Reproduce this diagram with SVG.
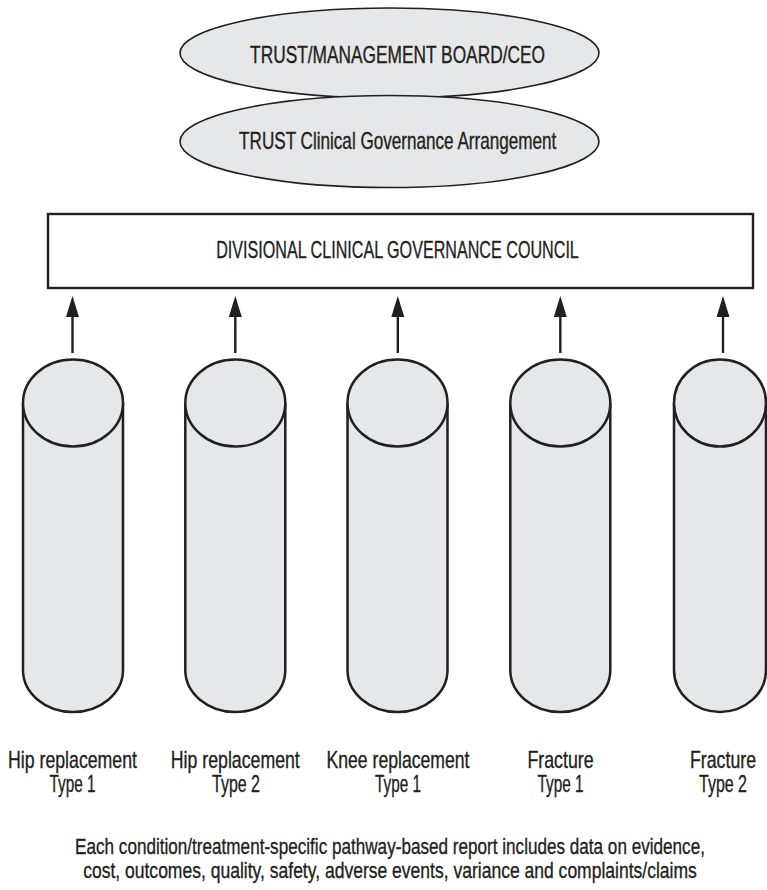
<svg xmlns="http://www.w3.org/2000/svg" width="767" height="890" viewBox="0 0 767 890">
  <style>
    .txt { font-family: "Liberation Sans", Arial, sans-serif; font-size: 23px; fill: #231f20; stroke: #231f20; stroke-width: 0.35; text-anchor: middle; }
    .note { font-size: 22px; }
    .oval { fill: #e6e7e8; stroke: #231f20; stroke-width: 1.6; }
    .box { fill: #ffffff; stroke: #231f20; stroke-width: 2.4; }
    .cyl { fill: #e6e7e8; stroke: #231f20; stroke-width: 2.5; }
    .link { stroke: #231f20; stroke-width: 2.4; fill: none; }
    .head { fill: #231f20; stroke: none; }
  </style>
  <defs>
    <!-- cylinder outline centred on x=0: sides, rounded base, and top face -->
    <g id="cylinder">
      <path class="cyl" d="M-50,403 L-50,670 A50,42 0 0 0 50,670 L50,403"/>
      <ellipse class="cyl" cx="0" cy="403" rx="50" ry="43.5"/>
    </g>
    <!-- upward arrow, tip at (0,296) -->
    <g id="up-arrow">
      <line class="link" x1="0" y1="353" x2="0" y2="314"/>
      <path class="head" d="M-6.5,317 L0,296 L6.5,317 Z"/>
    </g>
  </defs>

  <!-- executive tier -->
  <g id="trust-board">
    <ellipse class="oval" cx="389.5" cy="53" rx="209.5" ry="45"/>
    <text class="txt" transform="translate(397.5,63) scale(0.77,1)" textLength="383" lengthAdjust="spacingAndGlyphs">TRUST/MANAGEMENT BOARD/CEO</text>
  </g>
  <g id="trust-governance">
    <ellipse class="oval" cx="389.5" cy="141.5" rx="209.5" ry="46"/>
    <text class="txt" transform="translate(397.7,149) scale(0.77,1)" textLength="412" lengthAdjust="spacingAndGlyphs">TRUST Clinical Governance Arrangement</text>
  </g>

  <!-- divisional council -->
  <g id="divisional-council">
    <rect class="box" x="48" y="214" width="705" height="74"/>
    <text class="txt" transform="translate(397.5,258) scale(0.77,1)" textLength="471" lengthAdjust="spacingAndGlyphs">DIVISIONAL CLINICAL GOVERNANCE COUNCIL</text>
  </g>

  <!-- upward reporting arrows -->
  <g id="connectors">
    <use href="#up-arrow" transform="translate(72.5,0)"/>
    <use href="#up-arrow" transform="translate(235.3,0)"/>
    <use href="#up-arrow" transform="translate(397.8,0)"/>
    <use href="#up-arrow" transform="translate(560.3,0)"/>
    <use href="#up-arrow" transform="translate(723,0)"/>
  </g>

  <!-- pathway cylinders with labels -->
  <g id="hip-type-1">
    <use href="#cylinder" transform="translate(73,0)"/>
    <text class="txt" transform="translate(72.5,768) scale(0.77,1)" textLength="167.5" lengthAdjust="spacingAndGlyphs">Hip replacement</text>
    <text class="txt" transform="translate(72.5,792) scale(0.77,1)" textLength="59.7" lengthAdjust="spacingAndGlyphs">Type 1</text>
  </g>
  <g id="hip-type-2">
    <use href="#cylinder" transform="translate(235.3,0)"/>
    <text class="txt" transform="translate(235.3,768) scale(0.77,1)" textLength="167.5" lengthAdjust="spacingAndGlyphs">Hip replacement</text>
    <text class="txt" transform="translate(236,792) scale(0.77,1)" textLength="62.3" lengthAdjust="spacingAndGlyphs">Type 2</text>
  </g>
  <g id="knee-type-1">
    <use href="#cylinder" transform="translate(397.5,0)"/>
    <text class="txt" transform="translate(398,768) scale(0.77,1)" textLength="185.7" lengthAdjust="spacingAndGlyphs">Knee replacement</text>
    <text class="txt" transform="translate(398,792) scale(0.77,1)" textLength="59.7" lengthAdjust="spacingAndGlyphs">Type 1</text>
  </g>
  <g id="fracture-type-1">
    <use href="#cylinder" transform="translate(560.3,0)"/>
    <text class="txt" transform="translate(560.5,768) scale(0.77,1)" textLength="85.7" lengthAdjust="spacingAndGlyphs">Fracture</text>
    <text class="txt" transform="translate(560.5,792) scale(0.77,1)" textLength="59.7" lengthAdjust="spacingAndGlyphs">Type 1</text>
  </g>
  <g id="fracture-type-2">
    <path class="cyl" d="M674,403 L674,670 A46,42 0 0 0 766,670 L766,403"/>
    <ellipse class="cyl" cx="720" cy="403" rx="46" ry="43.5"/>
    <text class="txt" transform="translate(723,768) scale(0.77,1)" textLength="85.7" lengthAdjust="spacingAndGlyphs">Fracture</text>
    <text class="txt" transform="translate(723,792) scale(0.77,1)" textLength="62.3" lengthAdjust="spacingAndGlyphs">Type 2</text>
  </g>

  <!-- footnote -->
  <g id="footnote">
    <text class="txt note" transform="translate(390,853.5) scale(0.77,1)" textLength="818" lengthAdjust="spacingAndGlyphs">Each condition/treatment-specific pathway-based report includes data on evidence,</text>
    <text class="txt note" transform="translate(390,878.3) scale(0.77,1)" textLength="797" lengthAdjust="spacingAndGlyphs">cost, outcomes, quality, safety, adverse events, variance and complaints/claims</text>
  </g>
</svg>
